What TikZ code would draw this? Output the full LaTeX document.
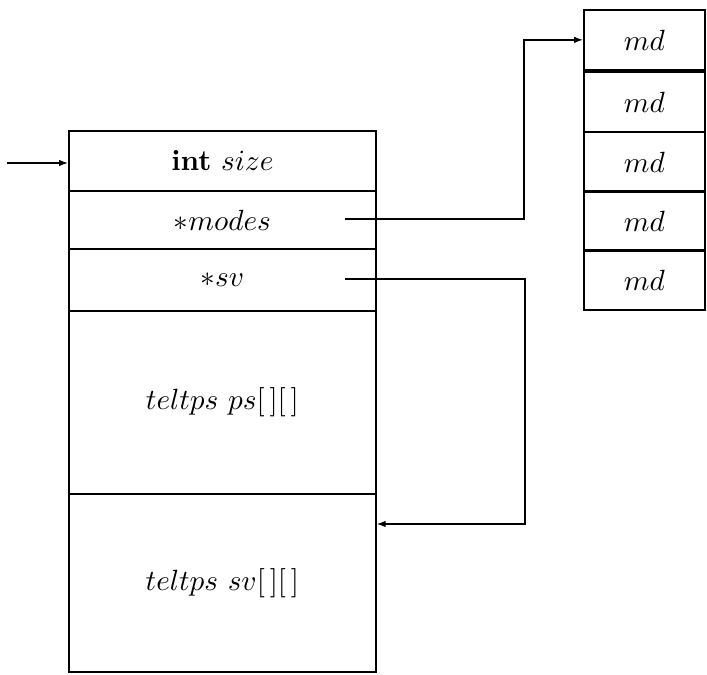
\documentclass[tikz,border=0pt]{standalone}
\usetikzlibrary{arrows.meta}
\begin{document}
\begin{tikzpicture}[x=0.342pt,y=-0.342pt,
  cell/.style={draw,line width=0.6pt,rectangle,inner sep=0pt,anchor=north west},
  link/.style={line width=0.45pt,-{Latex[length=3pt,width=2.2pt]}},
  wire/.style={line width=0.45pt}]
\useasboundingbox (0,0) rectangle (707,675);

% structure record
\node[cell,minimum width=307*0.342pt,minimum height=60*0.342pt]  (size)  at (68,130) {\textbf{int} $size$};
\node[cell,minimum width=307*0.342pt,minimum height=58*0.342pt]  (modes) at (68,190) {$*modes$};
\node[cell,minimum width=307*0.342pt,minimum height=62*0.342pt]  (sv)    at (68,248) {$*sv$};
\node[cell,minimum width=307*0.342pt,minimum height=183*0.342pt] (ps)    at (68,310) {$teltps\ ps[\,][\,]$};
\node[cell,minimum width=307*0.342pt,minimum height=178*0.342pt] (sva)   at (68,493) {$teltps\ sv[\,][\,]$};

% mode array
\foreach \i/\y in {1/9,2/71,3/131,4/190,5/249}{
  \node[cell,minimum width=121*0.342pt,minimum height=60*0.342pt] (md\i) at (583,\y) {$md$};
}

% connectors
\coordinate (entry) at (7,163);
\coordinate (mstart) at (345,219);
\coordinate (mbend) at (524,219);
\coordinate (sstart) at (345,279);
\coordinate (sbend) at (525,524);

\draw[link] (entry) -- (entry -| size.west);
\draw[link] (mstart) -- (mbend) |- (md1.west);
\draw[link] (sstart) -| (sbend) -- (sbend -| sva.east);
\end{tikzpicture}
\end{document}
